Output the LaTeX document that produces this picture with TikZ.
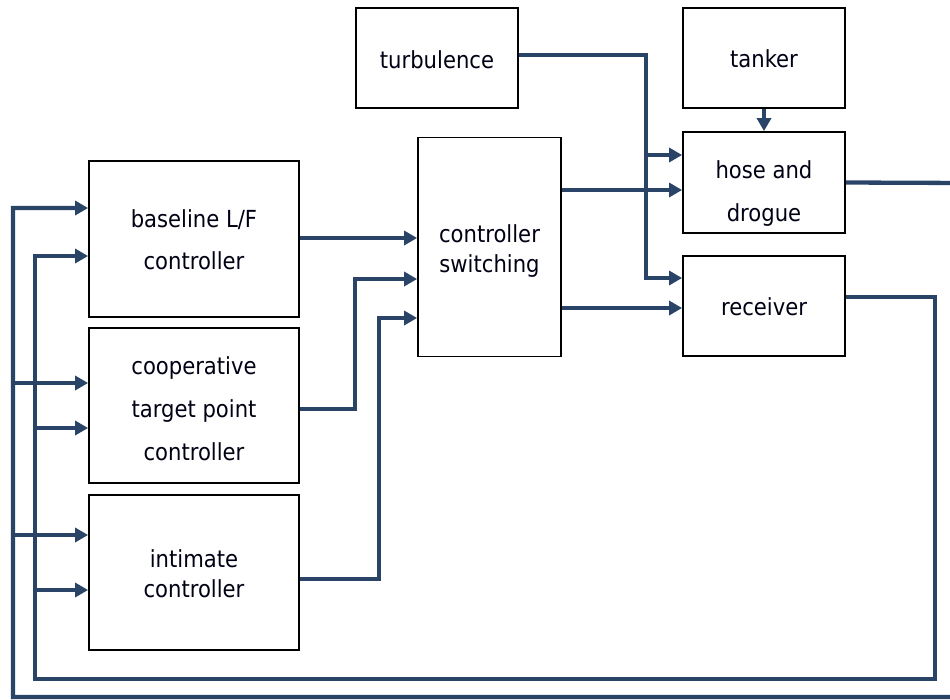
\documentclass[tikz,border=0pt]{standalone}
\usepackage{fontspec}
\setmainfont{DejaVu Sans Condensed}
\usetikzlibrary{arrows.meta}
\definecolor{linkblue}{RGB}{42,68,104}
\begin{document}
\begin{tikzpicture}[x=1pt,y=-1pt,
  blk/.style={draw=black, line width=1.8pt, fill=white, inner sep=0pt},
  lbl/.style={anchor=base, inner sep=0pt, font=\fontsize{23.5}{28}\selectfont, text=black!92!blue},
  wire/.style={draw=linkblue, line width=4.3pt},
  feed/.style={wire, -{Triangle[length=13pt,width=14pt]}}]
\useasboundingbox (0,0) rectangle (950,699);
\clip (0,0) rectangle (950,699);

% blocks
\node[blk, minimum width=162pt, minimum height=100pt] (turb)   at (437,58)    {};
\node[blk, minimum width=162pt, minimum height=100pt] (tanker) at (764,58)    {};
\node[blk, minimum width=162pt, minimum height=101pt] (hose)   at (764,182.5) {};
\node[blk, minimum width=162pt, minimum height=100pt] (recv)   at (764,306)   {};
\node[blk, minimum width=143pt, minimum height=219pt] (sw)     at (489.5,247) {};
\node[blk, minimum width=210pt, minimum height=156pt] (base)   at (194,239)   {};
\node[blk, minimum width=210pt, minimum height=155pt] (coop)   at (194,405.5) {};
\node[blk, minimum width=210pt, minimum height=155pt] (intim)  at (194,572.5) {};

% block texts, one node per line, placed on its baseline
\node[lbl] (turb-1)   at (437,68)  {turbulence};
\node[lbl] (tanker-1) at (764,67)  {tanker};
\node[lbl] (hose-1)   at (764,178) {hose and};
\node[lbl] (hose-2)   at (764,221) {drogue};
\node[lbl] (recv-1)   at (764,315) {receiver};
\node[lbl] (sw-1)     at (489.5,242) {controller};
\node[lbl] (sw-2)     at (489.5,272) {switching};
\node[lbl] (base-1)   at (194,227) {baseline L/F};
\node[lbl] (base-2)   at (194,269) {controller};
\node[lbl] (coop-1)   at (194,374) {cooperative};
\node[lbl] (coop-2)   at (194,417) {target point};
\node[lbl] (coop-3)   at (194,460) {controller};
\node[lbl] (intim-1)  at (194,567) {intimate};
\node[lbl] (intim-2)  at (194,597) {controller};

% junction and turning points
\coordinate (tj)  at (646,55);
\coordinate (tb)  at (646,155);
\coordinate (out) at (13,208);
\coordinate (inn) at (35,256);

% disturbance and tanker inputs
\draw[feed] (turb.east |- tj) -- (tj) |- (recv.west |- 0,278);
\draw[feed] (tb) -- (hose.west |- tb);
\draw[feed] (tanker.south) -- (hose.north);

% switching outputs
\draw[feed] (sw.east |- 0,190) -- (hose.west |- 0,190);
\draw[feed] (sw.east |- 0,308) -- (recv.west |- 0,308);

% controller outputs into the switch
\draw[feed] (base.east |- 0,238) -- (sw.west |- 0,238);
\draw[feed] (coop.east |- 0,409) -| (355,279) -- (sw.west |- 0,279);
\draw[feed] (intim.east |- 0,579) -| (379,318) -- (sw.west |- 0,318);

% outer feedback from the hose and drogue
\draw[feed] (hose.east) -- (965,183) -- (965,697) -- (13,697) -- (out) -- (base.west |- out);
\draw[feed] (13,383) -- (coop.west |- 0,383);
\draw[feed] (13,535) -- (intim.west |- 0,535);

% inner feedback from the receiver
\draw[feed] (recv.east |- 0,297) -- (935,297) -- (935,679) -- (35,679) -- (inn) -- (base.west |- inn);
\draw[feed] (35,428) -- (coop.west |- 0,428);
\draw[feed] (35,590) -- (intim.west |- 0,590);
\end{tikzpicture}
\end{document}
